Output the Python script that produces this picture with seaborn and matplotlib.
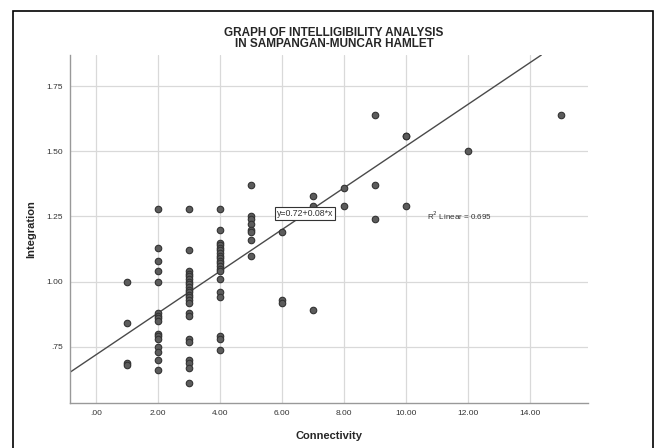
"""Scatter of integration against connectivity with a linear fit line."""
import matplotlib

matplotlib.use("Agg")
import matplotlib.pyplot as plt
import pandas as pd
import seaborn as sns
from matplotlib.patches import Rectangle

sns.set_theme(style="whitegrid")
plt.rcParams["font.family"] = ["Liberation Sans", "DejaVu Sans"]

# Connectivity / Integration per street segment
conn_1 = [1.00, 0.84, 0.69, 0.68]
conn_2 = [1.28, 1.13, 1.08, 1.04, 1.00, 0.88, 0.87, 0.86, 0.85, 0.80,
          0.79, 0.78, 0.75, 0.73, 0.70, 0.66]
conn_3 = [1.28, 1.12, 1.04, 1.03, 1.02, 1.01, 1.00, 0.99, 0.98, 0.97,
          0.96, 0.95, 0.94, 0.93, 0.92, 0.88, 0.87, 0.78, 0.77, 0.70,
          0.69, 0.67, 0.61]
conn_4 = [1.28, 1.20, 1.15, 1.14, 1.13, 1.12, 1.11, 1.10, 1.09, 1.08,
          1.07, 1.06, 1.05, 1.04, 1.01, 0.96, 0.94, 0.79, 0.78, 0.74]
conn_5 = [1.37, 1.25, 1.24, 1.22, 1.20, 1.19, 1.16, 1.10]
conn_6 = [1.19, 0.93, 0.92]
conn_7 = [1.33, 1.29, 0.89]
conn_8 = [1.36, 1.29]
conn_9 = [1.64, 1.37, 1.24]
conn_10 = [1.56, 1.56, 1.29]
conn_12 = [1.50]
conn_15 = [1.64]

groups = {1: conn_1, 2: conn_2, 3: conn_3, 4: conn_4, 5: conn_5, 6: conn_6,
          7: conn_7, 8: conn_8, 9: conn_9, 10: conn_10, 12: conn_12, 15: conn_15}

intercept = 0.72
slope = 0.08
r_squared = 0.695

x_ticks = [0, 2, 4, 6, 8, 10, 12, 14]
x_labels = [".00", "2.00", "4.00", "6.00", "8.00", "10.00", "12.00", "14.00"]
y_ticks = [0.75, 1.00, 1.25, 1.50, 1.75]
y_labels = [".75", "1.00", "1.25", "1.50", "1.75"]

rows = [(c, v) for c, vals in groups.items() for v in vals]
df = pd.DataFrame(rows, columns=["Connectivity", "Integration"])

fig = plt.figure(figsize=(6.6, 4.48), dpi=100)
ax = fig.add_axes([0.106, 0.1004, 0.785, 0.7768])

sns.scatterplot(
    data=df, x="Connectivity", y="Integration", ax=ax,
    s=22, color="#5c5c5c", edgecolor="#333333", linewidth=0.8, zorder=3,
)
ax.axline((0, intercept), slope=slope, color="#4a4a4a", lw=1.0, zorder=2)

ax.set_xlim(-0.84, 15.87)
ax.set_ylim(0.535, 1.869)
ax.set_xticks(x_ticks, x_labels)
ax.set_yticks(y_ticks, y_labels)
ax.tick_params(axis="both", length=0, labelsize=6, labelcolor="#333333", pad=5)
ax.grid(True, color="#d9d9d9", lw=0.9)
ax.set_axisbelow(True)
for side in ("top", "right"):
    ax.spines[side].set_visible(False)
for side in ("left", "bottom"):
    ax.spines[side].set_color("#999999")
    ax.spines[side].set_linewidth(1.0)

ax.set_xlabel("Connectivity", fontsize=8, fontweight="bold", labelpad=10)
ax.set_ylabel("Integration", fontsize=8, fontweight="bold", labelpad=7)

ax.text(6.74, 1.262, f"y={intercept:.2f}+{slope:.2f}*x", fontsize=6.3,
        ha="center", va="center", color="#333333", zorder=4,
        bbox=dict(boxstyle="square,pad=0.25", fc="white", ec="#333333", lw=0.8))
ax.text(10.66, 1.253, f"R$^2$ Linear = {r_squared:.3f}", fontsize=5.8,
        ha="left", va="center", color="#333333")

fig.text(0.506, 0.914, "GRAPH OF INTELLIGIBILITY ANALYSIS\nIN SAMPANGAN-MUNCAR HAMLET",
         ha="center", va="center", fontsize=8.5, fontweight="bold",
         linespacing=0.9)

fig.patches.append(Rectangle((13 / 660, -0.1), 640 / 660, 1.1 - 11 / 448,
                             transform=fig.transFigure, fill=False,
                             ec="black", lw=1.2))

fig.savefig("out.png", dpi=100)
